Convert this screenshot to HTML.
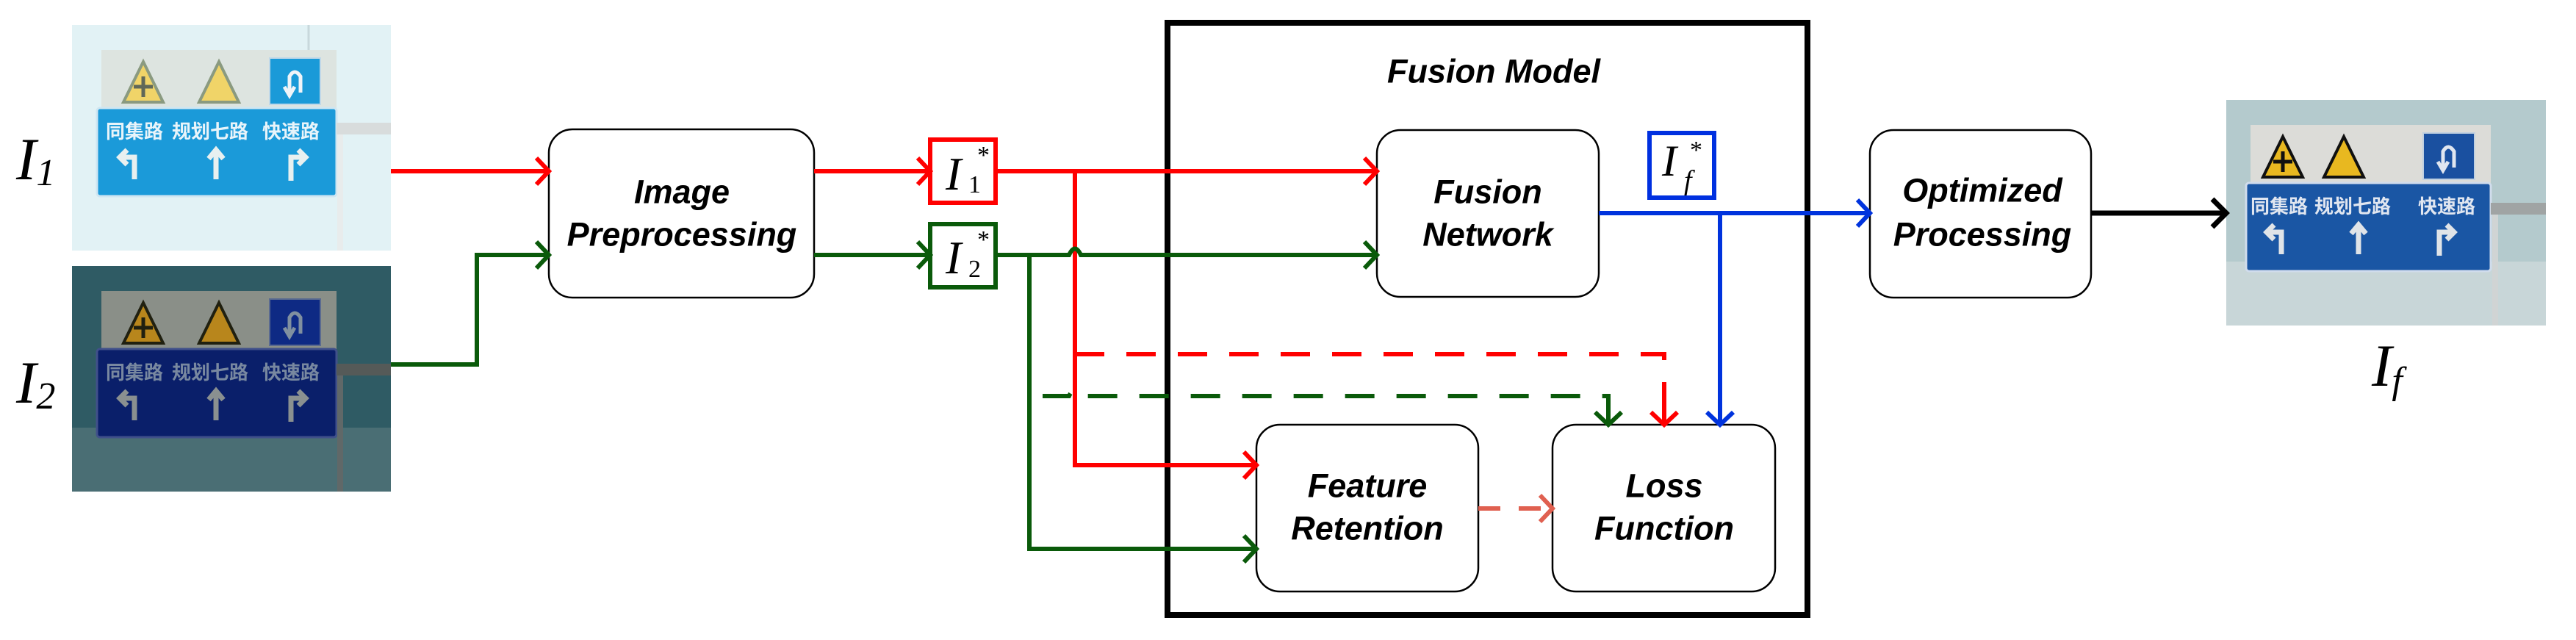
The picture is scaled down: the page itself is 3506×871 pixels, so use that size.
<!DOCTYPE html>
<html><head><meta charset="utf-8"><style>
html,body{margin:0;padding:0;background:#fff;}
svg{display:block;}
.bt{font-family:"Liberation Sans",sans-serif;font-weight:bold;font-style:italic;font-size:45px;text-anchor:middle;dominant-baseline:central;fill:#000;}
.mt{font-family:"Liberation Serif",serif;font-style:italic;fill:#000;}
.cn{font-family:"Liberation Sans","Noto Sans CJK SC",sans-serif;font-weight:bold;font-size:26px;text-anchor:middle;}
</style></head><body>
<svg width="3506" height="871" viewBox="0 0 3506 871" xmlns="http://www.w3.org/2000/svg">

<!-- Photo I1 -->
<g transform="translate(98,34)">
<rect width="434" height="307" fill="#e2f2f5"/>
<line x1="322" y1="0" x2="322" y2="34" stroke="#c8d8dc" stroke-width="3"/>
<rect x="40" y="34" width="320" height="80" fill="#dde4e0"/>
<polygon points="97,50 70,105 124,105" fill="#f0d468" stroke="#8a9a80" stroke-width="4"/>
<path d="M97,70 V98 M84,84 H110" stroke="#606858" stroke-width="5"/>
<polygon points="200,50 173,105 227,105" fill="#f0d468" stroke="#8a9a80" stroke-width="4"/>
<rect x="269" y="45" width="69" height="63" fill="#1a9ad8" stroke="#c0d8e8" stroke-width="2"/>
<path d="M296,95 V70 Q303,58 311,70 V92 M303,84 L296,96 L289,84" fill="none" stroke="#f0f4f8" stroke-width="5"/>
<rect x="34" y="113" width="326" height="120" rx="4" fill="#1b9ad9" stroke="#cfe6f2" stroke-width="3"/>
<text class="cn" x="85" y="154" fill="#e8f4fa">同集路</text>
<text class="cn" x="188" y="154" fill="#e8f4fa">规划七路</text>
<text class="cn" x="298" y="154" fill="#e8f4fa">快速路</text>
<path d="M85,210 V180 H65 M75,170 L65,180 L75,190" fill="none" stroke="#e8f0f0" stroke-width="7"/>
<path d="M196,210 V172 M186,182 L196,170 L206,182" fill="none" stroke="#e8f0f0" stroke-width="7"/>
<path d="M298,212 V180 H318 M308,170 L318,180 L308,190" fill="none" stroke="#e8f0f0" stroke-width="7"/>
<rect x="360" y="133" width="74" height="16" fill="#d8dcdc"/>
<rect x="361" y="149" width="8" height="158" fill="#e8ecec"/>
</g>

<!-- Photo I2 -->
<g transform="translate(98,362)">
<rect width="434" height="307" fill="#2f5b64"/>
<rect x="0" y="220" width="434" height="87" fill="#4a6e74"/>
<rect x="40" y="34" width="320" height="80" fill="#8a8f88"/>
<polygon points="97,50 70,105 124,105" fill="#b8861c" stroke="#202010" stroke-width="4"/>
<path d="M97,70 V98 M84,84 H110" stroke="#202010" stroke-width="5"/>
<polygon points="200,50 173,105 227,105" fill="#b8861c" stroke="#202010" stroke-width="4"/>
<rect x="269" y="45" width="69" height="63" fill="#0e2a84" stroke="#5a6a90" stroke-width="2"/>
<path d="M296,95 V70 Q303,58 311,70 V92 M303,84 L296,96 L289,84" fill="none" stroke="#8090a0" stroke-width="5"/>
<rect x="34" y="113" width="326" height="120" rx="4" fill="#0a1f6a" stroke="#40508a" stroke-width="3"/>
<text class="cn" x="85" y="154" fill="#7888a0">同集路</text>
<text class="cn" x="188" y="154" fill="#7888a0">规划七路</text>
<text class="cn" x="298" y="154" fill="#7888a0">快速路</text>
<path d="M85,210 V180 H65 M75,170 L65,180 L75,190" fill="none" stroke="#8a9090" stroke-width="7"/>
<path d="M196,210 V172 M186,182 L196,170 L206,182" fill="none" stroke="#8a9090" stroke-width="7"/>
<path d="M298,212 V180 H318 M308,170 L318,180 L308,190" fill="none" stroke="#8a9090" stroke-width="7"/>
<rect x="360" y="133" width="74" height="16" fill="#555a58"/>
<rect x="361" y="149" width="8" height="158" fill="#606868"/>
</g>

<!-- Photo If -->
<g transform="translate(3030,136)">
<rect width="435" height="307" fill="#b4cacd"/>
<rect x="0" y="220" width="435" height="87" fill="#c8d6d8"/>
<rect x="33" y="34" width="327" height="80" fill="#dcdcd8"/>
<polygon points="77,50 50,105 104,105" fill="#e8b820" stroke="#101010" stroke-width="4"/>
<path d="M77,70 V98 M64,84 H90" stroke="#101010" stroke-width="5"/>
<polygon points="160,50 133,105 187,105" fill="#e8b820" stroke="#101010" stroke-width="4"/>
<rect x="268" y="45" width="70" height="63" fill="#1a50a0" stroke="#c0d0e0" stroke-width="2"/>
<path d="M295,95 V70 Q302,58 310,70 V92 M302,84 L295,96 L288,84" fill="none" stroke="#e0e6f0" stroke-width="5"/>
<rect x="27" y="113" width="333" height="120" rx="4" fill="#1a56a4" stroke="#d0dcec" stroke-width="3"/>
<text class="cn" x="72" y="154" fill="#e0e6f0">同集路</text>
<text class="cn" x="172" y="154" fill="#e0e6f0">规划七路</text>
<text class="cn" x="300" y="154" fill="#e0e6f0">快速路</text>
<path d="M75,210 V180 H55 M65,170 L55,180 L65,190" fill="none" stroke="#e0e4e8" stroke-width="7"/>
<path d="M180,210 V172 M170,182 L180,170 L190,182" fill="none" stroke="#e0e4e8" stroke-width="7"/>
<path d="M290,212 V180 H310 M300,170 L310,180 L300,190" fill="none" stroke="#e0e4e8" stroke-width="7"/>
<rect x="360" y="140" width="75" height="16" fill="#a0a4a4"/>
<rect x="362" y="156" width="8" height="151" fill="#d0d4d4"/>
</g>

<!-- Labels I1 I2 If -->
<text class="mt" x="22" y="244" font-size="82">I<tspan font-size="52" dy="8">1</tspan></text>
<text class="mt" x="22" y="548" font-size="82">I<tspan font-size="52" dy="8">2</tspan></text>
<text class="mt" x="3228" y="525" font-size="82">I<tspan font-size="52" dy="10">f</tspan></text>

<!-- Fusion Model container -->
<rect x="1589" y="31" width="871" height="806" fill="none" stroke="#000" stroke-width="8"/>
<text class="bt" x="2033" y="97" font-size="44">Fusion Model</text>

<!-- Boxes -->
<g fill="#fff" stroke="#000" stroke-width="2.5">
<rect x="747" y="176" width="361" height="229" rx="32"/>
<rect x="1874" y="177" width="302" height="227" rx="32"/>
<rect x="1710" y="578" width="302" height="227" rx="32"/>
<rect x="2113" y="578" width="303" height="227" rx="32"/>
<rect x="2545" y="177" width="301" height="228" rx="32"/>
</g>
<text class="bt" x="928" y="261">Image</text>
<text class="bt" x="928" y="319">Preprocessing</text>
<text class="bt" x="2025" y="261">Fusion</text>
<text class="bt" x="2025" y="319">Network</text>
<text class="bt" x="1861" y="661">Feature</text>
<text class="bt" x="1861" y="719">Retention</text>
<text class="bt" x="2265" y="661">Loss</text>
<text class="bt" x="2265" y="719">Function</text>
<text class="bt" x="2698" y="259">Optimized</text>
<text class="bt" x="2698" y="319">Processing</text>

<!-- I1* I2* If* boxes -->
<rect x="1266" y="190" width="89" height="86" fill="#fff" stroke="#f00" stroke-width="6"/>
<text class="mt" x="1287" y="258" font-size="64">I</text>
<text x="1318" y="262" font-family="Liberation Serif,serif" font-size="34">1</text>
<text x="1330" y="222" font-family="Liberation Serif,serif" font-size="34">*</text>
<rect x="1266" y="305" width="89" height="86" fill="#fff" stroke="#0a5a0a" stroke-width="6"/>
<text class="mt" x="1287" y="372" font-size="64">I</text>
<text x="1318" y="377" font-family="Liberation Serif,serif" font-size="34">2</text>
<text x="1330" y="337" font-family="Liberation Serif,serif" font-size="34">*</text>
<rect x="2245" y="181" width="88" height="88" fill="#fff" stroke="#0030e0" stroke-width="6"/>
<text class="mt" x="2262" y="239" font-size="60">I</text>
<text class="mt" x="2292" y="258" font-size="38">f</text>
<text x="2300" y="215" font-family="Liberation Serif,serif" font-size="34">*</text>

<!-- Connectors -->
<g fill="none" stroke-width="6" stroke-linejoin="miter">
<g stroke="#ff0000">
<path d="M532,233 H745"/><path d="M730,215 L747,233 L730,251"/>
<path d="M1108,233 H1264"/><path d="M1249,215 L1266,233 L1249,251"/>
<path d="M1357,233 H1872"/><path d="M1857,215 L1874,233 L1857,251"/>
<path d="M1463,233 V633 H1708"/><path d="M1693,615 L1710,633 L1693,651"/>
<path d="M1463,482 H2265 V576" stroke-dasharray="40 30"/>
<path d="M2265,540 V576"/><path d="M2247,561 L2265,578 L2283,561"/>
</g>
<g stroke="#0a5a0a">
<path d="M532,496 H649 V347 H745"/><path d="M730,329 L747,347 L730,365"/>
<path d="M1108,347 H1264"/><path d="M1249,329 L1266,347 L1249,365"/>
<path d="M1357,347 H1455 Q1463,330 1471,347 H1872"/><path d="M1857,329 L1874,347 L1857,365"/>
<path d="M1401,347 V747 H1708"/><path d="M1693,729 L1710,747 L1693,765"/>
<path d="M1419,539 H1455 Q1463,522 1471,539 H2189 V576" stroke-dasharray="40 30"/>
<path d="M2189,540 V576"/><path d="M2171,561 L2189,578 L2207,561"/>
</g>
<g stroke="#0033dd">
<path d="M2176,290 H2543"/><path d="M2528,272 L2545,290 L2528,308"/>
<path d="M2341,290 V576"/><path d="M2323,561 L2341,578 L2359,561"/>
</g>
<path d="M2012,692 H2111" stroke="#e06050" stroke-dasharray="30 25"/>
<path d="M2096,674 L2113,692 L2096,710" stroke="#e06050"/>
<path d="M2846,290 H3028" stroke="#000" stroke-width="7"/>
<path d="M3011,271 L3030,290 L3011,309" stroke="#000" stroke-width="7"/>
</g>
</svg>
</body></html>
